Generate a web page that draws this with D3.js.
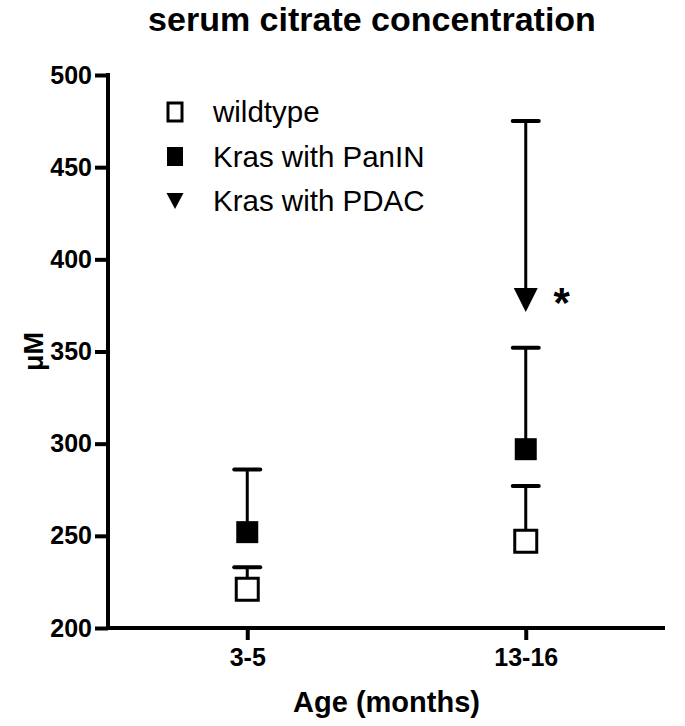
<!DOCTYPE html>
<html><head><meta charset="utf-8">
<script src="https://cdn.jsdelivr.net/npm/d3@7"></script>
<style>html,body{margin:0;padding:0;background:#fff;}svg{display:block;}</style>
</head><body>
<svg id="chart" width="685" height="726"></svg>
<script>
const categories = ["3-5", "13-16"];
const seriesNames = ["wildtype", "Kras with PanIN", "Kras with PDAC"];
const wildtypeMean = [221, 247];
const wildtypeSem = [12, 30];
const panINMean = [252, 297];
const panINSem = [34, 55];
const pdacMean = [null, 378];
const pdacSem = [null, 97];
const yTicks = [200, 250, 300, 350, 400, 450, 500];
const title = "serum citrate concentration";
const xTitle = "Age (months)";
const yTitle = "μM";

const FONT = "'Liberation Sans', Arial, Helvetica, sans-serif";
const svg = d3.select("#chart");
const L = 108, R = 665, T = 75, B = 628;

const x = d3.scalePoint().domain(categories).range([L, R]).padding(0.5);
const y = d3.scaleLinear().domain([200, 500]).range([B, T]);

// title
svg.append("text").attr("x", 372).attr("y", 31).attr("text-anchor", "middle")
  .attr("font-family", FONT).attr("font-weight", "bold").attr("font-size", 34)
  .text(title);

// y axis
const yAxis = svg.append("g").attr("transform", `translate(${L},0)`)
  .call(d3.axisLeft(y).tickValues(yTicks).tickSize(13).tickSizeOuter(0).tickPadding(3));
yAxis.select(".domain").attr("stroke-width", 4).attr("d", `M0,${B+2}V${T-2}`);
yAxis.selectAll(".tick line").attr("stroke-width", 4);
yAxis.selectAll(".tick text").attr("font-family", FONT).attr("font-weight", "bold")
  .attr("font-size", 25).attr("fill", "#000");

// x axis
const xAxis = svg.append("g").attr("transform", `translate(0,${B})`)
  .call(d3.axisBottom(x).tickSize(12).tickSizeOuter(0).tickPadding(8));
xAxis.select(".domain").attr("stroke-width", 4).attr("d", `M${L-2},0H${R}`);
xAxis.selectAll(".tick line").attr("stroke-width", 4);
xAxis.selectAll(".tick text").attr("font-family", FONT).attr("font-weight", "bold")
  .attr("font-size", 25).attr("fill", "#000");

// axis titles
svg.append("text").attr("x", (L + R) / 2).attr("y", 712).attr("text-anchor", "middle")
  .attr("font-family", FONT).attr("font-weight", "bold").attr("font-size", 29)
  .text(xTitle);
svg.append("text").attr("transform", `translate(43,${(T + B) / 2}) rotate(-90)`)
  .attr("text-anchor", "middle")
  .attr("font-family", FONT).attr("font-weight", "bold").attr("font-size", 27)
  .text(yTitle);

const SQ = 22, CAP = 26;
const sqPath = d3.symbol().type(d3.symbolSquare).size(SQ * SQ);
function triDown(cx, cy, w, h) {
  h = h || w;
  return `M${cx - w / 2},${cy - h / 2}L${cx + w / 2},${cy - h / 2}L${cx},${cy + h / 2}Z`;
}

function errorBar(cx, mean, sem) {
  const y0 = y(mean), y1 = y(mean + sem);
  svg.append("line").attr("x1", cx).attr("x2", cx).attr("y1", y0).attr("y2", y1)
    .attr("stroke", "#000").attr("stroke-width", 3);
  svg.append("line").attr("x1", cx - CAP / 2).attr("x2", cx + CAP / 2).attr("y1", y1).attr("y2", y1)
    .attr("stroke", "#000").attr("stroke-width", 4).attr("stroke-linecap", "round");
}

categories.forEach((c, i) => {
  const cx = x(c);
  // wildtype
  errorBar(cx, wildtypeMean[i], wildtypeSem[i]);
  svg.append("path").attr("d", sqPath).attr("transform", `translate(${cx},${y(wildtypeMean[i])})`)
    .attr("fill", "#fff").attr("stroke", "#000").attr("stroke-width", 3);
  // PanIN
  errorBar(cx, panINMean[i], panINSem[i]);
  svg.append("path").attr("d", sqPath).attr("transform", `translate(${cx},${y(panINMean[i])})`)
    .attr("fill", "#000");
  // PDAC
  if (pdacMean[i] != null) {
    errorBar(cx, pdacMean[i], pdacSem[i]);
    svg.append("path").attr("d", triDown(cx, y(pdacMean[i]), 24)).attr("fill", "#000");
    svg.append("text").attr("x", cx + 36).attr("y", y(pdacMean[i]) + 17)
      .attr("text-anchor", "middle").attr("font-family", FONT).attr("font-weight", "bold")
      .attr("font-size", 42).text("*");
  }
});

// legend
const legY = [112, 157, 201];
const legX = 175;
seriesNames.forEach((name, i) => {
  if (i === 0) {
    svg.append("rect").attr("x", legX - 7).attr("y", legY[i] - 9).attr("width", 14).attr("height", 18)
      .attr("fill", "#fff").attr("stroke", "#000").attr("stroke-width", 3);
  } else if (i === 1) {
    svg.append("rect").attr("x", legX - 8).attr("y", legY[i] - 10).attr("width", 16).attr("height", 19)
      .attr("fill", "#000");
  } else {
    svg.append("path").attr("d", triDown(legX, legY[i], 17, 16)).attr("fill", "#000");
  }
  svg.append("text").attr("x", 213).attr("y", legY[i] + 10)
    .attr("font-family", FONT).attr("font-size", 29.5).attr("fill", "#000").text(name);
});
</script>
</body></html>
